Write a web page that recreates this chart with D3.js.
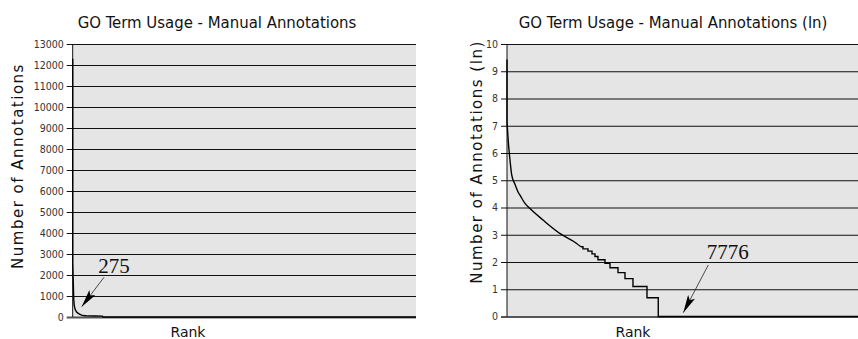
<!DOCTYPE html>
<html>
<head>
<meta charset="utf-8">
<script src="https://cdn.jsdelivr.net/npm/d3@7"></script>
<style>
  body { margin: 0; background: #fff; }
  svg { display: block; }
  .title { font-family: "DejaVu Sans Condensed", "DejaVu Sans", sans-serif; font-size: 16.6px; fill: #111; }
  .tick text { font-family: "DejaVu Sans Condensed", "DejaVu Sans", sans-serif; font-size: 10.5px; fill: #333; }
  .ylab { font-family: "DejaVu Sans", sans-serif; font-size: 15px; letter-spacing: 1.5px; fill: #111; }
  .xlab { font-family: "DejaVu Sans", sans-serif; font-size: 14px; fill: #111; }
  .note { font-family: "Liberation Serif", serif; font-size: 21px; fill: #111; }
</style>
</head>
<body>
<svg id="chart" width="858" height="339"></svg>
<script>
// left panel: raw annotation counts by rank
const spikeRank  = [0, 0];
const spikeCount = [12300, 2600];
const countRank  = [0, 40, 52, 90, 190, 370, 640, 740, 1540, 1545, 17650];
const countValue = [2600, 1300, 900, 490, 250, 130, 60, 55, 40, 0, 0];
const countTicks = [0, 1000, 2000, 3000, 4000, 5000, 6000, 7000, 8000, 9000, 10000, 11000, 12000, 13000];

// right panel: ln(annotations) by rank, smooth head then integer steps
const lnSpikeRank = [0, 0];
const lnSpike     = [9.43, 7.14];
const lnRank  = [0, 67, 154, 242, 411, 581, 668, 925, 1182, 1850, 2776, 3392, 3800];
const lnValue = [7.14, 6.41, 5.74, 5.2, 4.85, 4.55, 4.45, 4.15, 3.96, 3.54, 3.02, 2.77, 2.56];
const stepRank = [3800, 3906, 4163, 4369, 4523, 4677, 5037, 5294, 5705, 6065, 6476, 7196, 7776, 18660];
const stepLn   = [2.56, 2.48, 2.40, 2.30, 2.20, 2.08, 1.95, 1.79, 1.61, 1.39, 1.10, 0.69, 0, 0];
const lnTicks = [0, 1, 2, 3, 4, 5, 6, 7, 8, 9, 10];

const svg = d3.select("#chart");

svg.append("defs").append("marker")
    .attr("id", "head")
    .attr("viewBox", "0 0 18 8")
    .attr("refX", 18).attr("refY", 4)
    .attr("markerWidth", 18).attr("markerHeight", 8)
    .attr("markerUnits", "userSpaceOnUse")
    .attr("orient", "auto")
  .append("path")
    .attr("d", "M0,0 L18,4 L0,8 L4,4 Z")
    .attr("fill", "#000");

function drawPanel(p) {
    const x = d3.scaleLinear().domain(p.xDomain).range([p.left, p.right]);
    const y = d3.scaleLinear().domain(p.yDomain).range([p.bottom, p.top]);
    const w = p.right - p.left;

    const g = svg.append("g");

    g.append("rect")
        .attr("x", p.left).attr("y", p.top)
        .attr("width", w).attr("height", p.bottom - p.top)
        .attr("fill", "#e5e5e5");

    const axis = g.append("g")
        .attr("transform", `translate(${p.left},0)`)
        .call(d3.axisLeft(y).tickValues(p.ticks).tickFormat(d3.format("d"))
            .tickSize(-w).tickSizeOuter(0).tickPadding(9));
    axis.select(".domain").remove();
    axis.selectAll(".tick line")
        .attr("x1", -6)
        .attr("stroke", "#111")
        .attr("stroke-width", 1.1);
    axis.selectAll(".tick")
        .filter(d => d === 0)
        .select("line")
        .attr("stroke", "#555")
        .attr("stroke-width", 2);

    g.append("line")
        .attr("x1", p.left).attr("x2", p.left)
        .attr("y1", p.top).attr("y2", p.bottom)
        .attr("stroke", "#111");

    p.series.forEach(s => {
        const pts = s.xs.map((v, i) => [v, s.ys[i]]);
        g.append("path")
            .datum(pts)
            .attr("fill", "none")
            .attr("stroke", "#000")
            .attr("stroke-width", 1.4)
            .attr("d", d3.line().x(d => x(d[0])).y(d => y(d[1])).curve(s.curve)(pts));
    });

    g.append("text").attr("class", "title")
        .attr("x", p.titleX).attr("y", 28)
        .attr("text-anchor", "middle")
        .text(p.title);

    g.append("text").attr("class", "ylab")
        .attr("transform", `translate(${p.ylabX},${p.ylabY}) rotate(-90)`)
        .attr("text-anchor", "middle")
        .text(p.ylab);

    g.append("text").attr("class", "xlab")
        .attr("x", p.xlabX).attr("y", 337)
        .attr("text-anchor", "middle")
        .text("Rank");

    const n = p.note;
    g.append("line")
        .attr("x1", x(n.from[0])).attr("y1", y(n.from[1]))
        .attr("x2", x(n.to[0])).attr("y2", y(n.to[1]))
        .attr("stroke", "#222")
        .attr("stroke-width", 0.8)
        .attr("marker-end", "url(#head)");
    g.append("text").attr("class", "note")
        .attr("x", x(n.at[0])).attr("y", y(n.at[1]))
        .text(n.label);
}

drawPanel({
    left: 72.7, right: 416, top: 44, bottom: 317,
    xDomain: [0, 17650], yDomain: [0, 13000], ticks: countTicks,
    series: [
        { xs: spikeRank, ys: spikeCount, curve: d3.curveLinear },
        { xs: countRank, ys: countValue, curve: d3.curveMonotoneX }
    ],
    title: "GO Term Usage - Manual Annotations", titleX: 217,
    ylab: "Number of Annotations", ylabX: 23, ylabY: 166,
    xlabX: 188,
    note: { label: "275", at: [1316, 2080], from: [1609, 1890], to: [463, 490] }
});

drawPanel({
    left: 507, right: 870, top: 44, bottom: 316.5,
    xDomain: [0, 18660], yDomain: [0, 10], ticks: lnTicks,
    series: [
        { xs: lnSpikeRank, ys: lnSpike, curve: d3.curveLinear },
        { xs: lnRank, ys: lnValue, curve: d3.curveMonotoneX },
        { xs: stepRank, ys: stepLn, curve: d3.curveStepAfter }
    ],
    title: "GO Term Usage - Manual Annotations (ln)", titleX: 673,
    ylab: "Number of Annotations (ln)", ylabX: 482, ylabY: 162,
    xlabX: 633,
    note: { label: "7776", at: [10265, 2.1], from: [10347, 1.89], to: [9062, 0.14] }
});
</script>
</body>
</html>
